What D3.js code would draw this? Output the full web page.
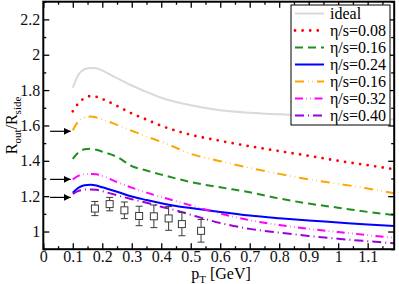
<!DOCTYPE html>
<html>
<head>
<meta charset="utf-8">
<script src="https://cdn.jsdelivr.net/npm/d3@7"></script>
<style>
  body { margin: 0; background: #fff; }
  svg, svg text { font-family: "Liberation Serif", "Times New Roman", Times, "Tinos", "DejaVu Serif", "Noto Serif", serif !important; }
</style>
</head>
<body>
<div id="vis"></div>
<script>
var width = 399, height = 284;

// pT grid shared by all curves
const pt = [0.1, 0.12, 0.14, 0.16, 0.18, 0.2, 0.25, 0.3, 0.35, 0.4, 0.45, 0.5, 0.6, 0.7, 0.8, 0.9, 1.0, 1.1, 1.19];

const idealVals = [1.814, 1.89, 1.918, 1.925, 1.924, 1.91, 1.868, 1.826, 1.79, 1.757, 1.733, 1.714, 1.686, 1.672, 1.663, 1.655, 1.648, 1.64, 1.634];
const eta008 = [1.68, 1.727, 1.755, 1.766, 1.762, 1.75, 1.71, 1.668, 1.633, 1.598, 1.57, 1.547, 1.513, 1.482, 1.455, 1.428, 1.4, 1.375, 1.352];
const eta016 = [1.411, 1.448, 1.465, 1.468, 1.462, 1.452, 1.422, 1.37, 1.345, 1.322, 1.3, 1.28, 1.25, 1.222, 1.187, 1.158, 1.135, 1.111, 1.093];
const eta024 = [1.219, 1.248, 1.262, 1.264, 1.26, 1.25, 1.225, 1.198, 1.178, 1.16, 1.145, 1.133, 1.11, 1.09, 1.075, 1.062, 1.051, 1.04, 1.031];
const eta016b = [1.573, 1.625, 1.646, 1.65, 1.645, 1.635, 1.603, 1.57, 1.538, 1.507, 1.474, 1.44, 1.398, 1.36, 1.326, 1.295, 1.27, 1.243, 1.216];
const eta032 = [1.295, 1.316, 1.325, 1.326, 1.324, 1.315, 1.28, 1.248, 1.22, 1.195, 1.172, 1.148, 1.102, 1.064, 1.037, 1.015, 0.997, 0.98, 0.964];
const eta040 = [1.213, 1.23, 1.237, 1.238, 1.236, 1.228, 1.205, 1.183, 1.163, 1.14, 1.12, 1.095, 1.048, 1.015, 0.994, 0.975, 0.959, 0.945, 0.933];

const seriesNames = ["ideal", "η/s=0.08", "η/s=0.16", "η/s=0.24", "η/s=0.16", "η/s=0.32", "η/s=0.40"];
const seriesColors = ["#d9d9d9", "#ff0000", "#1f8f1f", "#0000ff", "#ffa500", "#ff00ff", "#9a00d8"];
const seriesDash = [null, "0,7.6", "8,5", null, "9,4,0.5,4,0.5,4", "8,3.5,0.5,3.5,0.5,3.5", "9,4,1,4"];
const seriesVals = [idealVals, eta008, eta016, eta024, eta016b, eta032, eta040];

// measured points
const dataPt = [0.175, 0.225, 0.275, 0.325, 0.375, 0.425, 0.47, 0.535];
const dataVal = [1.13, 1.155, 1.12, 1.088, 1.086, 1.074, 1.042, 1.004];
const dataErr = [0.04, 0.038, 0.047, 0.055, 0.064, 0.067, 0.066, 0.064];

// arrows on the left
const arrowVals = [1.567, 1.295, 1.193];

const xTicks = [0, 0.1, 0.2, 0.3, 0.4, 0.5, 0.6, 0.7, 0.8, 0.9, 1, 1.1];
const yTicks = [1, 1.2, 1.4, 1.6, 1.8, 2, 2.2];

const x = d3.scaleLinear().domain([0, 1.19]).range([43.3, 394.2]);
const y = d3.scaleLinear().domain([0.9, 2.3]).range([249.2, 1.7]);

const svg = d3.select("#vis").append("svg")
    .attr("width", width)
    .attr("height", height);

svg.append("defs").append("marker")
    .attr("id", "arrowhead")
    .attr("viewBox", "0 0 10 10")
    .attr("refX", 10).attr("refY", 5)
    .attr("markerWidth", 7).attr("markerHeight", 7)
    .attr("markerUnits", "userSpaceOnUse")
    .attr("orient", "auto")
    .append("path")
    .attr("d", "M0,0 L10,5 L0,10 Z")
    .attr("fill", "#000");

// curves
const line = d3.line()
    .x(d => x(d[0]))
    .y(d => y(d[1]))
    .curve(d3.curveMonotoneX);

seriesVals.forEach((vals, i) => {
    svg.append("path")
        .datum(pt.map((p, j) => [p, vals[j]]))
        .attr("d", line)
        .attr("fill", "none")
        .attr("stroke", seriesColors[i])
        .attr("stroke-width", i === 1 ? 2.8 : 2)
        .attr("stroke-linecap", i === 1 ? "round" : "butt")
        .attr("stroke-dasharray", seriesDash[i]);
});

// data points with error bars
const pts = svg.append("g").attr("stroke", "#3a3a3a").attr("fill", "none").attr("stroke-width", 1);
dataPt.forEach((p, i) => {
    const cx = x(p), cy = y(dataVal[i]);
    const y0 = y(dataVal[i] - dataErr[i]), y1 = y(dataVal[i] + dataErr[i]);
    pts.append("line").attr("x1", cx).attr("x2", cx).attr("y1", y1).attr("y2", cy - 3.5);
    pts.append("line").attr("x1", cx).attr("x2", cx).attr("y1", cy + 3.5).attr("y2", y0);
    pts.append("line").attr("x1", cx - 3.5).attr("x2", cx + 3.5).attr("y1", y1).attr("y2", y1);
    pts.append("line").attr("x1", cx - 3.5).attr("x2", cx + 3.5).attr("y1", y0).attr("y2", y0);
    pts.append("rect").attr("x", cx - 3.5).attr("y", cy - 3.5).attr("width", 7).attr("height", 7);
});

// arrows
arrowVals.forEach(v => {
    svg.append("line")
        .attr("x1", x(0.023)).attr("x2", x(0.093))
        .attr("y1", y(v)).attr("y2", y(v))
        .attr("stroke", "#000")
        .attr("stroke-width", 1.2)
        .attr("marker-end", "url(#arrowhead)");
});

// axes with inward ticks on all four sides
const xMinor = d3.range(0.05, 1.19, 0.1);
const yMinor = d3.range(0.9, 2.31, 0.2);

function addAxis(axisFn, scale, ticks, size, tr, labels) {
    const g = svg.append("g")
        .attr("transform", tr)
        .call(axisFn(scale).tickValues(ticks).tickSize(size).tickFormat(labels ? d3.format("") : ""));
    g.attr("font-family", null);
    g.select(".domain").remove();
    g.selectAll("line").attr("stroke", "#000").attr("stroke-width", 1.3);
    g.selectAll("text").attr("font-size", 16).attr("fill", "#111");
    return g;
}

const bx = addAxis(d3.axisBottom, x, xTicks, -6, `translate(0,${y(0.9)})`, true);
bx.selectAll("text").attr("y", 1);
addAxis(d3.axisBottom, x, xMinor, -3, `translate(0,${y(0.9)})`, false);
addAxis(d3.axisTop, x, xTicks, -6, `translate(0,${y(2.3)})`, false);
addAxis(d3.axisTop, x, xMinor, -3, `translate(0,${y(2.3)})`, false);

const ly = addAxis(d3.axisLeft, y, yTicks, -6, `translate(${x(0)},0)`, true);
ly.selectAll("text").attr("x", -3);
addAxis(d3.axisLeft, y, yMinor, -3, `translate(${x(0)},0)`, false);
addAxis(d3.axisRight, y, yTicks, -6, `translate(${x(1.19)},0)`, false);
addAxis(d3.axisRight, y, yMinor, -3, `translate(${x(1.19)},0)`, false);

// frame
svg.append("rect")
    .attr("x", x(0)).attr("y", y(2.3))
    .attr("width", x(1.19) - x(0))
    .attr("height", y(0.9) - y(2.3))
    .attr("fill", "none")
    .attr("stroke", "#000")
    .attr("stroke-width", 2);

// axis titles
const xt = svg.append("text")
    .attr("x", 221).attr("y", 279)
    .attr("text-anchor", "middle")
    .attr("font-size", 16);
xt.append("tspan").text("p");
xt.append("tspan").attr("font-size", 11).attr("dy", 4).text("T");
xt.append("tspan").attr("dy", -4).text(" [GeV]");

const yt = svg.append("text")
    .attr("transform", `translate(17,${(y(0.9) + y(2.3)) / 2}) rotate(-90)`)
    .attr("text-anchor", "middle")
    .attr("font-size", 16);
yt.append("tspan").text("R");
yt.append("tspan").attr("font-size", 11).attr("dy", 4).text("out");
yt.append("tspan").attr("dy", -4).text("/R");
yt.append("tspan").attr("font-size", 11).attr("dy", 4).text("side");

// legend
const lg = svg.append("g");
lg.append("rect")
    .attr("x", 291).attr("y", 5)
    .attr("width", 99).attr("height", 120)
    .attr("fill", "#fff")
    .attr("stroke", "#000")
    .attr("stroke-width", 1);

seriesNames.forEach((name, i) => {
    const ly0 = 13.5 + i * 17;
    lg.append("line")
        .attr("x1", 295).attr("x2", 324)
        .attr("y1", ly0).attr("y2", ly0)
        .attr("stroke", seriesColors[i])
        .attr("stroke-width", i === 1 ? 2.8 : 2)
        .attr("stroke-linecap", i === 1 ? "round" : "butt")
        .attr("stroke-dasharray", seriesDash[i]);
    lg.append("text")
        .attr("x", 330).attr("y", ly0 + 5.5)
        .attr("font-size", 16)
        .text(name);
});
</script>
</body>
</html>
